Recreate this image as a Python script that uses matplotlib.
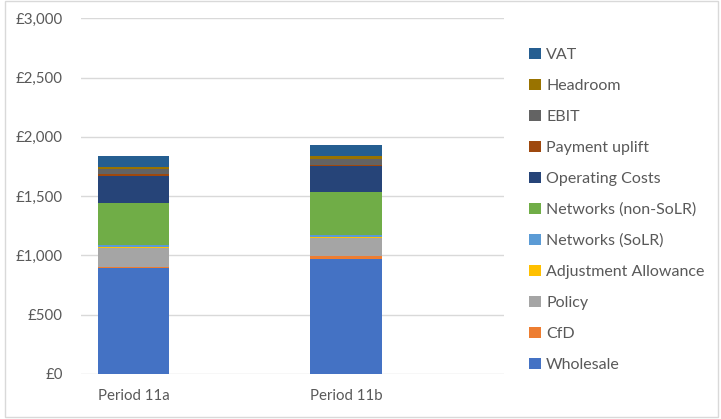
import matplotlib
matplotlib.use("Agg")
import matplotlib.pyplot as plt
from matplotlib.patches import Rectangle, Patch
from matplotlib.ticker import FuncFormatter

plt.rcParams['font.family'] = ['Lato', 'DejaVu Sans']

periods = ["Period 11a", "Period 11b"]

# components, bottom to top of each stack
components = [
    "Wholesale", "CfD", "Policy", "Adjustment Allowance", "Networks (SoLR)",
    "Networks (non-SoLR)", "Operating Costs", "Payment uplift", "EBIT",
    "Headroom", "VAT",
]
period_11a = [893, 12, 155, 10, 15, 360, 221, 17, 45, 17, 93]
period_11b = [973, 22, 152, 12, 15, 360, 218, 14, 50, 23, 94]

colours = [
    "#4472C4", "#ED7D31", "#A5A5A5", "#FFC000", "#5B9BD5",
    "#70AD47", "#264478", "#9E480E", "#636363", "#997300", "#255E91",
]

text_grey = "#595959"

fig = plt.figure(figsize=(7.21, 4.19), dpi=100)
ax = fig.add_axes([0.1123, 0.1074, 0.5867, 0.8489])

# chart area border
fig.patches.append(Rectangle((0.007, 0.004), 0.989, 0.994, transform=fig.transFigure,
                             fill=False, edgecolor="#D9D9D9", linewidth=1.0))

x = list(range(len(periods)))
bottoms = [0.0] * len(periods)
for i, name in enumerate(components):
    vals = [period_11a[i], period_11b[i]]
    ax.bar(x, vals, width=0.335, bottom=bottoms, color=colours[i],
           edgecolor="none", zorder=3)
    bottoms = [b + v for b, v in zip(bottoms, vals)]

ax.set_ylim(0, 3000)
ax.set_xlim(-0.25, 1.745)
ax.set_yticks(range(0, 3001, 500))
ax.yaxis.set_major_formatter(FuncFormatter(lambda v, _: f"£{v:,.0f}"))
ax.set_xticks(x)
ax.set_xticklabels(periods)

ax.grid(axis="y", color="#D9D9D9", linewidth=1.0, zorder=0)
for s in ax.spines.values():
    s.set_visible(False)
ax.tick_params(axis="both", length=0, colors=text_grey, labelsize=10.8)
ax.tick_params(axis="y", pad=13)
ax.tick_params(axis="x", pad=11)

handles = [Patch(facecolor=c, edgecolor="none") for c in colours][::-1]
labels = components[::-1]
fig.legend(handles, labels, loc="upper left", bbox_to_anchor=(0.725, 0.901),
           frameon=False, fontsize=11.5, labelcolor=text_grey,
           handlelength=0.72, handleheight=0.72, handletextpad=0.35,
           labelspacing=1.045, borderaxespad=0)

fig.savefig("out.png", dpi=100)
